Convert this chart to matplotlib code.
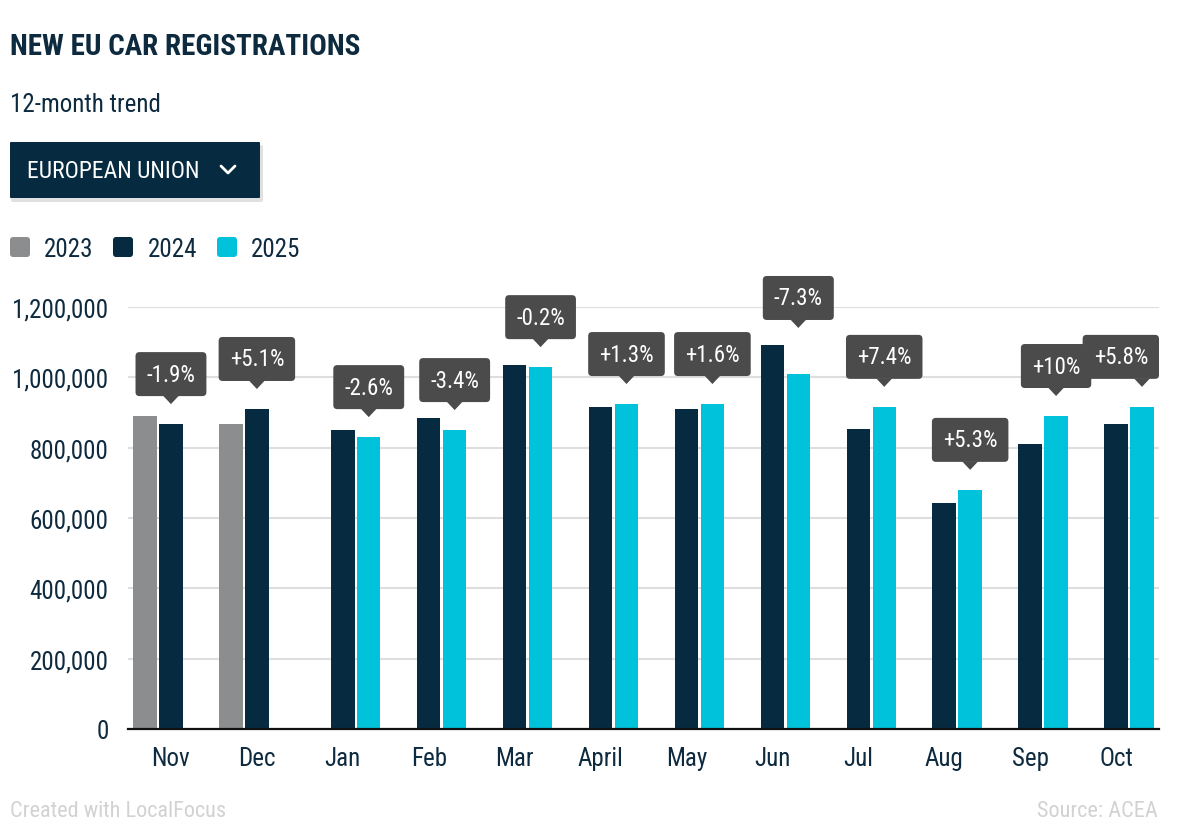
import numpy as np
import matplotlib
matplotlib.use('Agg')
import matplotlib.pyplot as plt
from matplotlib.patches import FancyBboxPatch, Polygon
from matplotlib.lines import Line2D
from matplotlib.ticker import FuncFormatter

plt.rcParams['font.family'] = ['Roboto Condensed', 'Roboto', 'DejaVu Sans']

# data
months = ['Nov', 'Dec', 'Jan', 'Feb', 'Mar', 'April', 'May', 'Jun', 'Jul', 'Aug', 'Sep', 'Oct']
nan = np.nan
reg_2023 = [890000, 867000, nan, nan, nan, nan, nan, nan, nan, nan, nan, nan]
reg_2024 = [867000, 910000, 850000, 884000, 1035000, 916000, 910000, 1092000, 853000, 643000, 810000, 867000]
reg_2025 = [nan, nan, 830000, 850000, 1029000, 924000, 924000, 1009000, 916000, 680000, 890000, 916000]
changes = ['-1.9%', '+5.1%', '-2.6%', '-3.4%', '-0.2%', '+1.3%', '+1.6%', '-7.3%', '+7.4%', '+5.3%', '+10%', '+5.8%']
years = ['2023', '2024', '2025']

GRAY = '#8b8d8f'
NAVY = '#062a40'
CYAN = '#00c2da'
TEXT = '#0d2a3f'
BUBBLE = '#4b4b4b'

W, H = 1200, 828
fig = plt.figure(figsize=(12, 8.28), dpi=100)
ax = fig.add_axes([128 / W, (H - 730) / H, 1031 / W, 422 / H])

slot = 0.302
width = 0.273
x = np.arange(len(months))
ax.bar(x - slot, reg_2023, width, color=GRAY, zorder=3)
ax.bar(x, reg_2024, width, color=NAVY, zorder=3)
ax.bar(x + slot, reg_2025, width, color=CYAN, zorder=3)

ax.set_xlim(-0.5, 11.5)
ax.set_ylim(0, 1200000)
ax.set_yticks(range(0, 1200001, 200000))
ax.yaxis.set_major_formatter(FuncFormatter(lambda v, p: '{:,.0f}'.format(v)))
ax.set_xticks(x)
ax.set_xticklabels(months)
ax.yaxis.grid(True, color='#dedede', lw=1.5, zorder=0)
ax.set_axisbelow(True)
for s in ['top', 'right', 'left']:
    ax.spines[s].set_visible(False)
ax.spines['bottom'].set_color('#111111')
ax.spines['bottom'].set_linewidth(1.6)
ax.spines['bottom'].set_zorder(4)
ax.tick_params(axis='both', length=0, labelsize=18, colors=TEXT)
ax.tick_params(axis='y', pad=14)
ax.tick_params(axis='x', pad=12)

# overlay in pixel coordinates (origin top-left)
ov = fig.add_axes([0, 0, 1, 1])
ov.set_xlim(0, W)
ov.set_ylim(H, 0)
ov.axis('off')

ov.text(10, 55, 'NEW EU CAR REGISTRATIONS', fontsize=21, fontweight='bold', color=TEXT, va='baseline')
ov.text(10, 112, '12-month trend', fontsize=18, color=TEXT, va='baseline')

# dropdown
ov.add_patch(FancyBboxPatch((11, 146), 252, 57, boxstyle='round,pad=0,rounding_size=2',
                            fc='black', ec='none', alpha=0.12))
ov.add_patch(FancyBboxPatch((10, 143), 250, 56, boxstyle='round,pad=0,rounding_size=1',
                            fc=NAVY, ec='none'))
ov.text(27, 178, 'EUROPEAN UNION', fontsize=17, color='white', va='baseline')
ov.add_line(Line2D([221, 228, 235], [167, 174, 167], color='white', lw=2, solid_capstyle='round'))

# legend
for lx, tx, col, lab in [(10, 44, GRAY, years[0]), (113, 148, NAVY, years[1]), (217, 251, CYAN, years[2])]:
    ov.add_patch(FancyBboxPatch((lx, 238), 20, 20, boxstyle='round,pad=0,rounding_size=3', fc=col, ec='none'))
    ov.text(tx, 257, lab, fontsize=18, color=TEXT, va='baseline')

# footer
ov.text(10, 817, 'Created with LocalFocus', fontsize=16, color='#d2d2d2', va='baseline')
ov.text(1158, 817, 'Source: ACEA', fontsize=16, color='#d2d2d2', va='baseline', ha='right')

# callouts
fig.canvas.draw()
renderer = fig.canvas.get_renderer()


def to_px(xv, yv):
    px, py = ax.transData.transform((xv, yv))
    return px, H - py


right_edge = 1159
for i in range(len(months)):
    if np.isnan(reg_2025[i]):
        cur_x, cur_v = x[i], reg_2024[i]
        other = reg_2023[i]
    else:
        cur_x, cur_v = x[i] + slot, reg_2025[i]
        other = reg_2024[i]
    tip_x, cur_top = to_px(cur_x, cur_v)
    _, other_top = to_px(x[i], other)
    tip_y = cur_top - 20
    if tip_y - 8 > other_top - 5:
        tip_y = other_top - 17
    t = ov.text(tip_x, tip_y - 30, changes[i], fontsize=16.5, color='white',
                ha='center', va='center', zorder=11 + 2 * i)
    tw = t.get_window_extent(renderer).width
    bw = tw + 22
    bx = tip_x - bw / 2
    if bx + bw > right_edge:
        bx = right_edge - bw
    t.set_x(bx + bw / 2)
    ov.add_patch(FancyBboxPatch((bx, tip_y - 52), bw, 44, boxstyle='round,pad=0,rounding_size=4',
                                fc=BUBBLE, ec='none', zorder=10 + 2 * i))
    ov.add_patch(Polygon([(tip_x - 8, tip_y - 8.5), (tip_x + 8, tip_y - 8.5), (tip_x, tip_y)],
                         closed=True, fc=BUBBLE, ec='none', zorder=10 + 2 * i))

fig.savefig('out.png', dpi=100)
